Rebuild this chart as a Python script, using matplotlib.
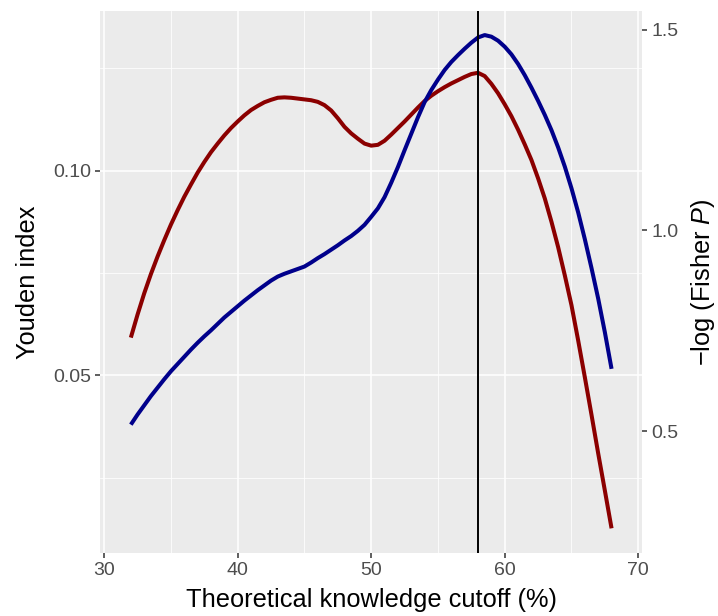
import matplotlib
matplotlib.use("Agg")
import matplotlib.pyplot as plt
from matplotlib.ticker import FixedLocator

plt.rcParams['font.family'] = ['Liberation Sans', 'DejaVu Sans']
plt.rcParams['mathtext.fontset'] = 'custom'
plt.rcParams['mathtext.rm'] = 'Liberation Sans'
plt.rcParams['mathtext.it'] = 'Liberation Sans:italic'

cutoff = [32, 32.5, 33, 33.5, 34, 34.5, 35, 35.5, 36, 36.5, 37, 37.5, 38, 38.5,
          39, 39.5, 40, 40.5, 41, 41.5, 42, 42.5, 43, 43.5, 44, 44.5, 45, 45.5,
          46, 46.5, 47, 47.5, 48, 48.5, 49, 49.5, 50, 50.5, 51, 51.5, 52, 52.5,
          53, 53.5, 54, 54.5, 55, 55.5, 56, 56.5, 57, 57.5, 58, 58.5, 59, 59.5,
          60, 60.5, 61, 61.5, 62, 62.5, 63, 63.5, 64, 64.5, 65, 65.5, 66, 66.5,
          67, 67.5, 68]
youden = [0.0592, 0.0648, 0.0700, 0.0747, 0.0790, 0.0830, 0.0868, 0.0903,
          0.0936, 0.0966, 0.0995, 0.1021, 0.1045, 0.1066, 0.1086, 0.1104,
          0.1120, 0.1135, 0.1148, 0.1158, 0.1167, 0.1173, 0.1178, 0.1179,
          0.1178, 0.1176, 0.1174, 0.1172, 0.1168, 0.1160, 0.1147, 0.1128,
          0.1107, 0.1091, 0.1078, 0.1066, 0.1061, 0.1063, 0.1073, 0.1088,
          0.1104, 0.1120, 0.1137, 0.1154, 0.1170, 0.1183, 0.1194, 0.1204,
          0.1213, 0.1221, 0.1229, 0.1236, 0.1239, 0.1231, 0.1212, 0.1189,
          0.1162, 0.1133, 0.1100, 0.1064, 0.1026, 0.0981, 0.0932, 0.0875,
          0.0813, 0.0744, 0.0671, 0.0585, 0.0495, 0.0403, 0.0309, 0.0218,
          0.0126]
neglogp = [0.516, 0.541, 0.564, 0.587, 0.608, 0.629, 0.649, 0.667, 0.685,
           0.703, 0.720, 0.736, 0.751, 0.767, 0.783, 0.797, 0.811, 0.825,
           0.838, 0.851, 0.863, 0.875, 0.885, 0.892, 0.898, 0.904, 0.910,
           0.920, 0.931, 0.941, 0.952, 0.963, 0.975, 0.986, 0.999, 1.014,
           1.034, 1.055, 1.083, 1.119, 1.158, 1.200, 1.241, 1.282, 1.320,
           1.350, 1.376, 1.400, 1.420, 1.437, 1.453, 1.468, 1.481, 1.487,
           1.483, 1.473, 1.458, 1.439, 1.415, 1.387, 1.356, 1.323, 1.288,
           1.250, 1.207, 1.159, 1.105, 1.045, 0.978, 0.906, 0.830, 0.746,
           0.655]
best_cutoff = 58

x_ticks = [30, 40, 50, 60, 70]
x_minor = [35, 45, 55, 65]
y_ticks = [0.05, 0.10]
y_tick_labels = ["0.05", "0.10"]
y_minor = [0.025, 0.075, 0.125]
r_ticks = [0.5, 1.0, 1.5]
r_tick_labels = ["0.5", "1.0", "1.5"]

W, H = 718, 616
fig = plt.figure(figsize=(W / 100, H / 100), dpi=100)
L, R, T, B = 100, 642, 11, 553
ax = fig.add_axes([L / W, 1 - B / H, (R - L) / W, (B - T) / H])
ax.set_facecolor('#EBEBEB')
for s in ax.spines.values():
    s.set_visible(False)

ax.set_xlim(29.69, 70.28)
ax.set_ylim(0.00657, 0.1390)

ax.xaxis.set_major_locator(FixedLocator(x_ticks))
ax.xaxis.set_minor_locator(FixedLocator(x_minor))
ax.yaxis.set_major_locator(FixedLocator(y_ticks))
ax.yaxis.set_minor_locator(FixedLocator(y_minor))
ax.set_yticklabels(y_tick_labels)
ax.grid(which='major', color='white', linewidth=1.1)
ax.grid(which='minor', color='white', linewidth=0.55)
ax.set_axisbelow(True)
ax.tick_params(which='major', length=3.5, width=1.1, color='#333333',
               labelsize=14, labelcolor='#4D4D4D', pad=3)
ax.tick_params(which='minor', length=0)

ax.plot(cutoff, youden, color='#8B0000', linewidth=2.9,
        solid_capstyle='butt', solid_joinstyle='round', zorder=3)

ax2 = ax.twinx()
for s in ax2.spines.values():
    s.set_visible(False)
ax2.set_ylim(0.196, 1.547)
ax2.yaxis.set_major_locator(FixedLocator(r_ticks))
ax2.set_yticklabels(r_tick_labels)
ax2.tick_params(which='major', length=3.5, width=1.1, color='#333333',
                labelsize=14, labelcolor='#4D4D4D', pad=3)
ax2.plot(cutoff, neglogp, color='#00008B', linewidth=2.9,
         solid_capstyle='butt', solid_joinstyle='round', zorder=3)
ax2.axvline(best_cutoff, color='black', linewidth=1.4, zorder=4)

fig.text(371 / W, 1 - 600 / H, 'Theoretical knowledge cutoff (%)', fontsize=18.3,
         color='black', ha='center', va='center')
fig.text(28 / W, 1 - 282 / H, 'Youden index', fontsize=18.3, color='black',
         ha='center', va='center', rotation=90)
fig.text(703 / W, 1 - 282 / H, r'−log (Fisher $\mathit{P}$)', fontsize=18.3,
         color='black', ha='center', va='center', rotation=90)

fig.savefig('out.png', dpi=100)
